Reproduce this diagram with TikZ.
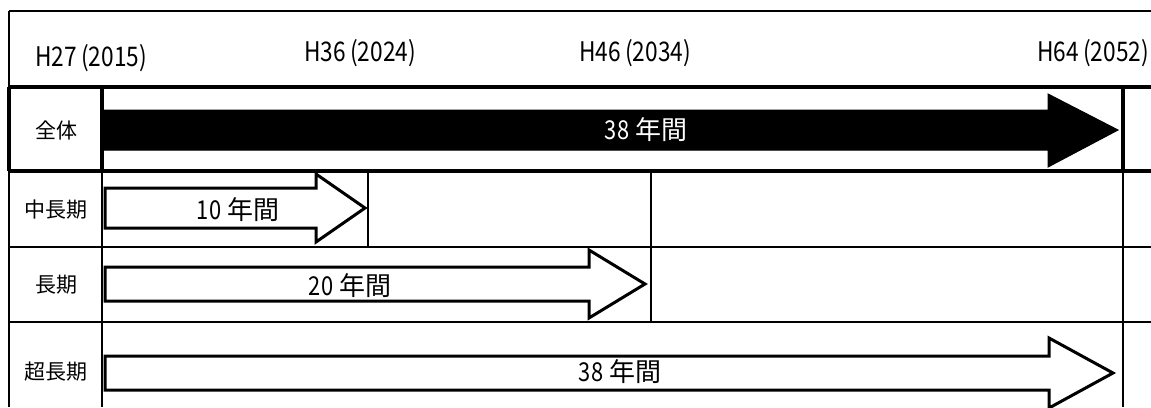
\documentclass[tikz,border=0pt]{standalone}
\usepackage{fontspec}
\setmainfont{Noto Sans CJK JP}
\newfontfamily\numf[FakeStretch=0.84]{Noto Sans CJK JP}
\begin{document}
\begin{tikzpicture}[x=1pt,y=-1pt,
  thinline/.style={line width=1.7pt},
  outline/.style={line width=2pt},
  boxline/.style={line width=3.2pt},
  openarrow/.style={draw=black,fill=white,line width=3pt,line join=miter},
  solidarrow/.style={draw=black,fill=black,line width=1pt,line join=miter},
  hdr/.style={font=\fontsize{27}{27}\selectfont\numf,inner sep=0pt},
  rowlabel/.style={font=\fontsize{21}{21}\selectfont,inner sep=0pt},
  arrowtext/.style={font=\fontsize{26}{26}\selectfont,inner sep=0pt}]
\useasboundingbox (0,0) rectangle (1151,407);
\clip (0,0) rectangle (1151,407);
% grid lines
\draw[outline] (9,11) -- (1151,11);
\draw[outline] (9,11) -- (9,407);
\draw[thinline] (102,171) -- (102,407);
\draw[thinline] (9,247) -- (1151,247);
\draw[thinline] (9,322) -- (1151,322);
\draw[thinline] (368,171) -- (368,247);
\draw[thinline] (651,171) -- (651,322);
\draw[thinline] (1123,171) -- (1123,407);
% overall row box
\draw[boxline] (9,87) -- (1151,87);
\draw[boxline] (9,171) -- (1151,171);
\draw[boxline] (9,87) -- (9,171);
\draw[boxline] (102,87) -- (102,171);
\draw[boxline] (1123,87) -- (1123,171);
% arrows
\draw[solidarrow] (104,110) -- (1048,110) -- (1048,94) -- (1118,130) -- (1048,167) -- (1048,150) -- (104,150) -- cycle;
\draw[openarrow] (105,188) -- (316,188) -- (316,174) -- (365,208) -- (316,242) -- (316,228) -- (105,228) -- cycle;
\draw[openarrow] (105,267) -- (589,267) -- (589,250) -- (645,284) -- (589,318) -- (589,301) -- (105,301) -- cycle;
\draw[openarrow] (105,356) -- (1049,356) -- (1049,338) -- (1113,373) -- (1049,408) -- (1049,390) -- (105,390) -- cycle;
% header labels
\node[hdr] (h27) at (91,58) {H27\,(2015)};
\node[hdr] (h36) at (360,53) {H36\,(2024)};
\node[hdr] (h46) at (635,53) {H46\,(2034)};
\node[hdr] (h64) at (1093,53) {H64\,(2052)};
% row labels
\node[rowlabel] (zentai) at (56,130) {全体};
\node[rowlabel] (chuchoki) at (56,210) {中長期};
\node[rowlabel] (choki) at (56,285) {長期};
\node[rowlabel] (chochoki) at (56,372) {超長期};
% arrow texts
\node[arrowtext,text=white] (t38a) at (646,130) {{\numf 38} 年間};
\node[arrowtext] (t10) at (238,210) {{\numf 10} 年間};
\node[arrowtext] (t20) at (350,286) {{\numf 20} 年間};
\node[arrowtext] (t38b) at (620,372) {{\numf 38} 年間};
\end{tikzpicture}
\end{document}
